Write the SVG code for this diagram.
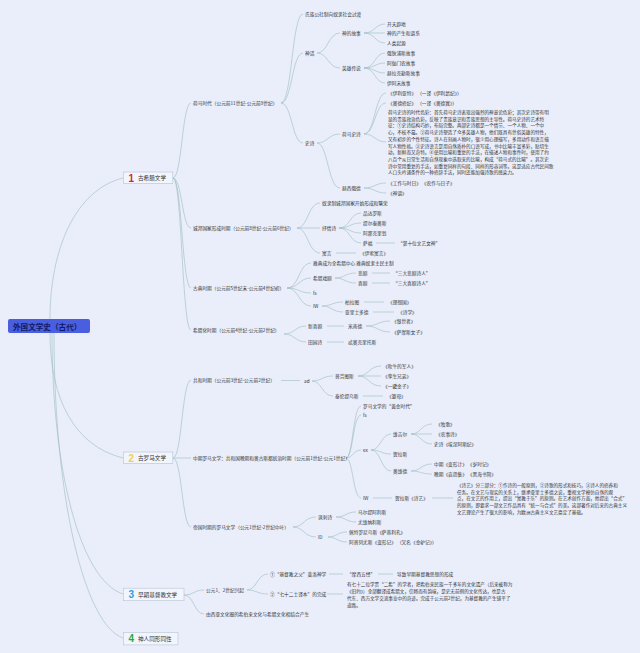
<svg xmlns="http://www.w3.org/2000/svg" width="640" height="653" viewBox="0 0 640 653">
<style>
.t{font-family:"Noto Sans CJK SC","Noto Sans",sans-serif;font-size:4.7px;fill:#333;dominant-baseline:central}
.p{font-size:4.6px}
.c{fill:none;stroke:#9cbcc0;stroke-width:0.6}
.box{fill:#f2f5fc;stroke:#b5c3d6;stroke-width:0.6}
.bt{font-family:"Noto Sans CJK SC","Noto Sans",sans-serif;font-size:5.6px;fill:#333;dominant-baseline:central}
.num{font-family:"Liberation Sans","Noto Sans",sans-serif;font-size:10px;font-weight:bold;dominant-baseline:central}
</style>
<rect width="640" height="653" fill="#e9eefa"/>
<g id="connectors">
<path class="c" d="M50,319 C50,250 75,190 123,178"/>
<path class="c" d="M50,333 C50,400 75,446 123,458"/>
<path class="c" d="M52,333 C52,470 80,580 123,594"/>
<path class="c" d="M54,333 C54,500 85,625 123,638"/>
<path class="c" d="M173,178 C182,178 182,103 191,103"/>
<path class="c" d="M173,178 C182,178 182,228 191,228"/>
<path class="c" d="M173,178 C182,178 182,288 191,288"/>
<path class="c" d="M173,178 C182,178 182,330 191,330"/>
<path class="c" d="M173,458 C182,458 182,380 191,380"/>
<path class="c" d="M173,458 L191,458"/>
<path class="c" d="M173,458 C182,458 182,527 191,527"/>
<path class="c" d="M184,595 C194,595 194,590 204,590"/>
<path class="c" d="M184,595 C194,595 194,614 204,614"/>
<path class="c" d="M281,103 C292,103 292,14 303,14"/>
<path class="c" d="M281,103 C292,103 292,53 303,53"/>
<path class="c" d="M281,103 C292,103 292,143 303,143"/>
<path class="c" d="M317,53 C328,53 328,33 340,33"/>
<path class="c" d="M317,53 C328,53 328,68 340,68"/>
<path class="c" d="M364,33 C375,33 375,24 385,24"/>
<path class="c" d="M364,33 L385,33"/>
<path class="c" d="M364,33 C375,33 375,43 385,43"/>
<path class="c" d="M364,68 C375,68 375,53 385,53"/>
<path class="c" d="M364,68 C375,68 375,63 385,63"/>
<path class="c" d="M364,68 C375,68 375,73 385,73"/>
<path class="c" d="M364,68 C375,68 375,83 385,83"/>
<path class="c" d="M317,143 C328,143 328,134 340,134"/>
<path class="c" d="M317,143 C328,143 328,188 340,188"/>
<path class="c" d="M364,134 C375,134 375,93 386,93"/>
<path class="c" d="M364,134 C375,134 375,103 386,103"/>
<path class="c" d="M364,134 C375,134 375,142 386,142"/>
<path class="c" d="M364,188 C375,188 375,183 386,183"/>
<path class="c" d="M364,188 C375,188 375,193 386,193"/>
<path class="c" d="M297,228 C308,228 308,203 320,203"/>
<path class="c" d="M297,228 L320,228"/>
<path class="c" d="M297,228 C308,228 308,253 320,253"/>
<path class="c" d="M339,228 C350,228 350,213 361,213"/>
<path class="c" d="M339,228 C350,228 350,223 361,223"/>
<path class="c" d="M339,228 C350,228 350,233 361,233"/>
<path class="c" d="M339,228 C350,228 350,243 361,243"/>
<path class="c" d="M376,243 L395,243"/>
<path class="c" d="M336,253 L356,253"/>
<path class="c" d="M287,288 C299,288 299,263 311,263"/>
<path class="c" d="M287,288 C299,288 299,278 311,278"/>
<path class="c" d="M287,288 C299,288 299,293 311,293"/>
<path class="c" d="M287,288 C299,288 299,306 311,306"/>
<path class="c" d="M335,278 C345,278 345,273 356,273"/>
<path class="c" d="M335,278 C345,278 345,283 356,283"/>
<path class="c" d="M372,273 L390,273"/>
<path class="c" d="M372,283 L390,283"/>
<path class="c" d="M322,306 C332,306 332,302 343,302"/>
<path class="c" d="M322,306 C332,306 332,312 343,312"/>
<path class="c" d="M364,302 L384,302"/>
<path class="c" d="M373,312 L394,312"/>
<path class="c" d="M284,334 C295,334 295,326 306,326"/>
<path class="c" d="M284,334 C295,334 295,342 306,342"/>
<path class="c" d="M327,326 L344,326"/>
<path class="c" d="M327,342 L344,342"/>
<path class="c" d="M366,326 C378,326 378,321 390,321"/>
<path class="c" d="M366,326 C378,326 378,332 390,332"/>
<path class="c" d="M281,380.5 L300,380.5"/>
<path class="c" d="M312,381 C322,381 322,376 333,376"/>
<path class="c" d="M312,381 C322,381 322,396 333,396"/>
<path class="c" d="M358,376 C369,376 369,366 381,366"/>
<path class="c" d="M358,376 L381,376"/>
<path class="c" d="M358,376 C369,376 369,386 381,386"/>
<path class="c" d="M363,396 L383,396"/>
<path class="c" d="M346,458 C353,458 353,406 361,406"/>
<path class="c" d="M346,458 C353,458 353,415 361,415"/>
<path class="c" d="M346,458 C353,458 353,450 361,450"/>
<path class="c" d="M346,458 C353,458 353,498 361,498"/>
<path class="c" d="M371,450 C381,450 381,434 391,434"/>
<path class="c" d="M371,450 C381,450 381,454 391,454"/>
<path class="c" d="M371,450 C381,450 381,471 391,471"/>
<path class="c" d="M411,434 C421,434 421,424 432,424"/>
<path class="c" d="M411,434 L432,434"/>
<path class="c" d="M411,434 C421,434 421,444 432,444"/>
<path class="c" d="M411,471 C421,471 421,464 432,464"/>
<path class="c" d="M411,471 C421,471 421,474 432,474"/>
<path class="c" d="M373,498 L392,498"/>
<path class="c" d="M432,498 L453,498"/>
<path class="c" d="M293,527 C304,527 304,517 316,517"/>
<path class="c" d="M293,527 C304,527 304,537 316,537"/>
<path class="c" d="M336,517 C346,517 346,512 356,512"/>
<path class="c" d="M336,517 C346,517 346,522 356,522"/>
<path class="c" d="M328,537 C337,537 337,532 347,532"/>
<path class="c" d="M328,537 C337,537 337,542 347,542"/>
<path class="c" d="M247,590 C257,590 257,574 268,574"/>
<path class="c" d="M247,590 C257,590 257,594 268,594"/>
<path class="c" d="M329,574 L343,574"/>
<path class="c" d="M378,574 L393,574"/>
<path class="c" d="M327,594 L343,594"/>
</g>
<g id="root">
<rect x="8" y="319" width="82" height="14" rx="2" fill="#4a5ee0"/>
<text x="13" y="326.2" font-family="Noto Sans CJK SC, sans-serif" font-size="7.6" font-weight="bold" fill="#0f1a66" dominant-baseline="central">外国文学史（古代）</text>
</g>
<g id="n1">
<rect class="box" x="123.3" y="172" width="49.5" height="11.3"/>
<text class="num" x="128.5" y="178" fill="#e02030">1</text>
<text class="bt" x="138" y="177.8">古希腊文学</text>
</g>
<g id="n2">
<rect class="box" x="123.3" y="452" width="49.5" height="11.3"/>
<text class="num" x="128.5" y="458" fill="#f0d04c">2</text>
<text class="bt" x="138" y="457.8">古罗马文学</text>
</g>
<g id="n3">
<rect class="box" x="123.3" y="588.2" width="60.7" height="12.5"/>
<text class="num" x="128.5" y="594.6" fill="#2d9ee2">3</text>
<text class="bt" x="138" y="594.5">早期基督教文学</text>
</g>
<g id="n4">
<rect class="box" x="123.3" y="632.3" width="54.7" height="12.6"/>
<text class="num" x="128.5" y="638.7" fill="#2aa83a">4</text>
<text class="bt" x="138" y="638.6">神人同形同性</text>
</g>
<g id="greek">
<g id="homer"><text class="t" x="193" y="103">荷马时代（公元前11世纪-公元前9世纪）</text></g>
<g id="g-b1"><text class="t" x="305" y="14">氏族公社制向奴隶社会过渡</text></g>
<g id="g-myth"><text class="t" x="305" y="53">神话</text></g>
<g id="g-god"><text class="t" x="342" y="33">神的故事</text></g>
<g id="g-god1"><text class="t" x="387" y="24">开天辟地</text></g>
<g id="g-god2"><text class="t" x="387" y="33">神的产生和谱系</text></g>
<g id="g-god3"><text class="t" x="387" y="43">人类起源</text></g>
<g id="g-hero"><text class="t" x="342" y="68">英雄传说</text></g>
<g id="g-hero1"><text class="t" x="387" y="53">俄狄浦斯故事</text></g>
<g id="g-hero2"><text class="t" x="387" y="63">阿伽门农故事</text></g>
<g id="g-hero3"><text class="t" x="387" y="73">赫拉克勒斯故事</text></g>
<g id="g-hero4"><text class="t" x="387" y="83">伊阿宋故事</text></g>
<g id="g-epic"><text class="t" x="305" y="143">史诗</text></g>
<g id="g-homeric"><text class="t" x="342" y="134">荷马史诗</text></g>
<g id="g-iliad"><text class="t" x="388" y="93">《伊利亚特》  （一译《伊利昂纪》）</text></g>
<g id="g-odyssey"><text class="t" x="388" y="103">《奥德修纪》  （一译《奥德赛》）</text></g>
<g id="g-para1"><text class="t p" x="388" y="112">荷马史诗的时代色彩：首先荷马史诗表现出强烈的神意论色彩；其次史诗带有明</text>
<text class="t p" x="388" y="118.7">显的贵族政治色彩，反映了贵族意识和贵族思想的主导性。荷马史诗的艺术特</text>
<text class="t p" x="388" y="125.4">征：①史诗结构巧妙，布局完整。两部史诗都是一个情节、一个人物、一个中</text>
<text class="t p" x="388" y="132.1">心，不枝不蔓。②荷马史诗塑造了众多英雄人物，他们既具有世俗英雄的特性，</text>
<text class="t p" x="388" y="138.8">又有初步的个性特征。诗人在刻画人物时，很少用心理描写，多用动作和语言描</text>
<text class="t p" x="388" y="145.5">写人物性格。③史诗语言是用自然质朴的口语写成，书中比喻丰富多彩，贴切生</text>
<text class="t p" x="388" y="152.2">动，新鲜而又奇特。④使用比喻和重复的手法，在描述人物和事件时，使用了约</text>
<text class="t p" x="388" y="158.9">八百个从日常生活和自然现象中选取来的比喻，构成“荷马式的比喻”。其次史</text>
<text class="t p" x="388" y="165.6">诗中常用重复的手法，如重复同样的句段、同样的形容词等。这是适应古代民间歌</text>
<text class="t p" x="388" y="172.3">人口头吟诵条件的一种修辞手法，同时还能加强诗歌的感染力。</text></g>
<g id="g-hesiod"><text class="t" x="342" y="188">赫西俄德</text></g>
<g id="g-works"><text class="t" x="388" y="183">《工作与时日》  《农作与日子》</text></g>
<g id="g-theog"><text class="t" x="388" y="193">《神谱》</text></g>
<g id="polis"><text class="t" x="193" y="228">城邦国家形成时期（公元前8世纪-公元前6世纪）</text></g>
<g id="g-slave"><text class="t" x="322" y="203">奴隶制城邦国家开始形成和繁荣</text></g>
<g id="g-lyric"><text class="t" x="322" y="228">抒情诗</text></g>
<g id="g-pindar"><text class="t" x="363" y="213">品达罗斯</text></g>
<g id="g-tyrt"><text class="t" x="363" y="223">提尔泰奥斯</text></g>
<g id="g-anac"><text class="t" x="363" y="233">阿那克里翁</text></g>
<g id="g-sappho"><text class="t" x="363" y="243">萨福</text></g>
<g id="g-muse"><text class="t" x="398" y="243">“第十位文艺女神”</text></g>
<g id="g-fable"><text class="t" x="322" y="253">寓言</text></g>
<g id="g-aesop"><text class="t" x="360" y="253">《伊索寓言》</text></g>
<g id="classic"><text class="t" x="193" y="288">古典时期（公元前5世纪末-公元前4世纪初）</text></g>
<g id="g-athens"><text class="t" x="313" y="263">雅典成为全希腊中心 雅典奴隶主民主制</text></g>
<g id="g-drama"><text class="t" x="313" y="278">希腊戏剧</text></g>
<g id="g-trag"><text class="t" x="358" y="273">悲剧</text></g>
<g id="g-trag3"><text class="t" x="393" y="273">“三大悲剧诗人”</text></g>
<g id="g-com"><text class="t" x="358" y="283">喜剧</text></g>
<g id="g-com3"><text class="t" x="393" y="283">“三大喜剧诗人”</text></g>
<g id="g-fs"><text class="t" x="313" y="293">fs</text></g>
<g id="g-iw"><text class="t" x="313" y="306">IW</text></g>
<g id="g-plato"><text class="t" x="345" y="302">柏拉图</text></g>
<g id="g-rep"><text class="t" x="388" y="302">《理想国》</text></g>
<g id="g-arist"><text class="t" x="345" y="312">亚里士多德</text></g>
<g id="g-poet"><text class="t" x="398" y="312">《诗学》</text></g>
<g id="hellen"><text class="t" x="193" y="330">希腊化时期（公元前4世纪-公元前2世纪）</text></g>
<g id="g-newcom"><text class="t" x="308" y="326">新喜剧</text></g>
<g id="g-menan"><text class="t" x="348" y="326">米南德</text></g>
<g id="g-dysk"><text class="t" x="392" y="321">《恨世者》</text></g>
<g id="g-samia"><text class="t" x="392" y="332">《萨摩斯女子》</text></g>
<g id="g-idyll"><text class="t" x="308" y="342">田园诗</text></g>
<g id="g-theoc"><text class="t" x="348" y="342">忒奥克里托斯</text></g>
</g>
<g id="roman">
<g id="repub"><text class="t" x="193" y="380">共和时期（公元前3世纪-公元前2世纪）</text></g>
<g id="r-ad"><text class="t" x="304" y="381">ad</text></g>
<g id="r-plaut"><text class="t" x="335" y="376">普劳图斯</text></g>
<g id="r-pl1"><text class="t" x="383" y="366">《吹牛的军人》</text></g>
<g id="r-pl2"><text class="t" x="383" y="376">《孪生兄弟》</text></g>
<g id="r-pl3"><text class="t" x="383" y="386">《一罐金子》</text></g>
<g id="r-ter"><text class="t" x="335" y="396">泰伦提乌斯</text></g>
<g id="r-hecyra"><text class="t" x="387" y="396">《婆母》</text></g>
<g id="middle"><text class="t" x="193" y="458">中期罗马文学：共和国晚期和奥古斯都统治时期（公元前1世纪-公元1世纪）</text></g>
<g id="r-gold"><text class="t" x="363" y="406">罗马文学的“黄金时代”</text></g>
<g id="r-fs"><text class="t" x="363" y="415">fs</text></g>
<g id="r-ex"><text class="t" x="363" y="450">ex</text></g>
<g id="r-virg"><text class="t" x="393" y="434">维吉尔</text></g>
<g id="r-v1"><text class="t" x="436" y="424">《牧歌》</text></g>
<g id="r-v2"><text class="t" x="436" y="434">《农事诗》</text></g>
<g id="r-v3"><text class="t" x="434" y="444">史诗《埃涅阿斯纪》</text></g>
<g id="r-hor"><text class="t" x="393" y="454">贺拉斯</text></g>
<g id="r-ovid"><text class="t" x="393" y="471">奥维德</text></g>
<g id="r-o1"><text class="t" x="434" y="464">中期《变形计》  《岁时记》</text></g>
<g id="r-o2"><text class="t" x="434" y="474">晚期《哀怨集》  《黑海书简》</text></g>
<g id="r-iw"><text class="t" x="363" y="498">IW</text></g>
<g id="r-ars"><text class="t" x="395" y="498">贺拉斯《诗艺》</text></g>
<g id="r-para"><text class="t p" x="457" y="485">《诗艺》分三部分：①作诗的一般原则，②诗歌的形式和技巧，③诗人的修养和</text>
<text class="t p" x="457" y="491.7">任务。在文艺与现实的关系上，继承亚里士多德之说，重视文学模仿自然的观</text>
<text class="t p" x="457" y="498.4">点，在文艺的作用上，提出“寓教于乐”的原则。在艺术创作方面，他提出“合式”</text>
<text class="t p" x="457" y="505.1">的原则，即要求一部文艺作品具有“统一与合式”的美。这部著作对后来的古典主义</text>
<text class="t p" x="457" y="511.8">文艺理论产生了很大的影响，为欧洲古典主义文艺奠定了基础。</text></g>
<g id="empire"><text class="t" x="193" y="527">帝国时期的罗马文学（公元1世纪-2世纪中叶）</text></g>
<g id="r-sat"><text class="t" x="318" y="517">讽刺诗</text></g>
<g id="r-mart"><text class="t" x="358" y="512">马尔提阿利斯</text></g>
<g id="r-juv"><text class="t" x="358" y="522">尤维纳利斯</text></g>
<g id="r-id"><text class="t" x="318" y="537">ID</text></g>
<g id="r-pet"><text class="t" x="349" y="532">佩特罗尼乌斯《萨蒂利孔》</text></g>
<g id="r-apul"><text class="t" x="349" y="542">阿普列尤斯《变形记》  （又名《金驴记》）</text></g>
</g>
<g id="christian">
<g id="c-rise"><text class="t" x="206" y="590">公元1、2世纪兴起</text></g>
<g id="c-philo"><text class="t" x="270" y="574">①“基督教之父”斐洛神学</text></g>
<g id="c-moses"><text class="t" x="347" y="574">“摩西五经”</text></g>
<g id="c-lead"><text class="t" x="397" y="574">导致早期基督教思想的形成</text></g>
<g id="c-lxx"><text class="t" x="270" y="594">②“七十二士译本”的完成</text></g>
<g id="c-para"><text class="t p" x="347" y="584">有七十二位学贯“二希”的学者，把希伯来民族一千多年的文化遗产（后来被称为</text>
<text class="t p" x="347" y="591">《旧约》）全部翻译成希腊文，信畅而有韵味，是史无前例的文化传达，也是古</text>
<text class="t p" x="347" y="598">代东、西方文学交流事业中的奇迹。完成于公元前2世纪，为基督教的产生铺平了</text>
<text class="t p" x="347" y="605">道路。</text></g>
<g id="c-origin"><text class="t" x="206" y="614">由西亚文化圈的希伯来文化与希腊文化相结合产生</text></g>
</g>
</svg>
